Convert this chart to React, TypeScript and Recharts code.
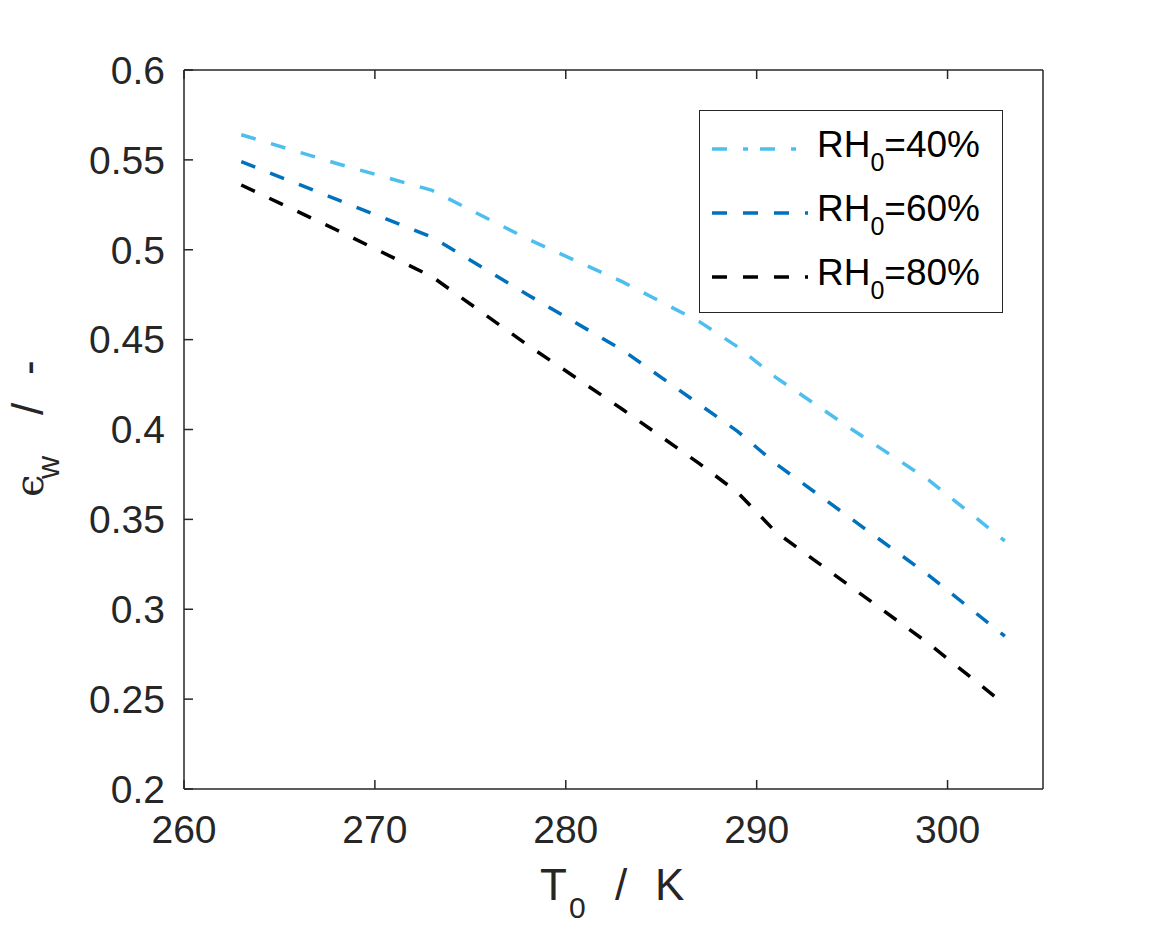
import React from "react";
import { LineChart, Line, XAxis, YAxis, Legend } from "recharts";

// temperatures T0 (K)
const temps = [263, 268, 273, 278, 283, 287, 289, 291, 295, 299, 303];

// water efficiency for each inlet humidity
const rh40 = [0.564, 0.548, 0.533, 0.506, 0.482, 0.46, 0.446, 0.429, 0.4, 0.372, 0.338];
const rh60 = [0.549, 0.528, 0.507, 0.475, 0.444, 0.414, 0.399, 0.381, 0.35, 0.319, 0.285];
const rh80 = [0.536, 0.511, 0.485, 0.447, 0.411, 0.381, 0.365, 0.343, 0.312, 0.281, 0.247];

const xTicks = [260, 270, 280, 290, 300];
const yTicks = [0.2, 0.25, 0.3, 0.35, 0.4, 0.45, 0.5, 0.55, 0.6];

const series = [
  { key: "rh40", label: "40%", color: "#4DBEEE", icon: "15 16 5 12" },
  { key: "rh60", label: "60%", color: "#0072BD", icon: "15 16" },
  { key: "rh80", label: "80%", color: "#000000", icon: "15 16" },
];

const data = temps.map((t, i) => ({ t, rh40: rh40[i], rh60: rh60[i], rh80: rh80[i] }));

const FONT = "'Liberation Sans', Arial, Helvetica, sans-serif";
const AXIS = "#262626";

const tickStyle = { fontSize: 39, fill: AXIS, fontFamily: FONT };

const XLabel = () => (
  <text fill={AXIS} fontFamily={FONT} fontSize={44} y={900}>
    <tspan x={540}>T</tspan>
    <tspan x={569} dy={18} fontSize={30}>0</tspan>
    <tspan x={615} dy={-18}>/</tspan>
    <tspan x={655}>K</tspan>
  </text>
);

const YLabel = () => (
  <text fill={AXIS} fontFamily={FONT} fontSize={44} transform="translate(43,497) rotate(-90)">
    <tspan x={0} fontSize={40} fontFamily="'DejaVu Serif', serif">ϵ</tspan>
    <tspan x={18} dy={16} fontSize={32}>w</tspan>
    <tspan x={82} dy={-16}>/</tspan>
    <tspan x={122}>-</tspan>
  </text>
);

const renderLegend = () => (
  <div
    style={{
      position: "relative",
      width: 304,
      height: 203,
      boxSizing: "border-box",
      border: `1.5px solid ${AXIS}`,
      background: "#fff",
      fontFamily: FONT,
    }}
  >
    {series.map((s, i) => (
      <div key={s.key} style={{ position: "absolute", left: 0, top: 38 + i * 64 - 20, height: 40, width: 304 }}>
        <svg width={96} height={40} style={{ position: "absolute", left: 12, top: 0 }}>
          <line x1={0} y1={20} x2={96} y2={20} stroke={s.color} strokeWidth={3.5} strokeDasharray={s.icon} />
        </svg>
        <span
          style={{
            position: "absolute",
            left: 117,
            top: -6,
            fontSize: 37,
            lineHeight: "44px",
            color: "#000",
            whiteSpace: "nowrap",
          }}
        >
          RH<sub style={{ fontSize: 25, verticalAlign: "-14px", lineHeight: 0 }}>0</sub>={s.label}
        </span>
      </div>
    ))}
  </div>
);

export default function App() {
  return (
    <div style={{ position: "absolute", left: 0, top: 0, background: "#fff" }}>
      <LineChart width={1152} height={930} data={data} margin={{ top: 69, right: 108, left: 0, bottom: 0 }}>
        <XAxis
          dataKey="t"
          type="number"
          domain={[260, 305]}
          ticks={xTicks}
          height={141}
          stroke={AXIS}
          strokeWidth={1.5}
          tickSize={-9}
          tickMargin={35}
          tick={tickStyle}
          label={<XLabel />}
        />
        <XAxis
          xAxisId="top"
          orientation="top"
          dataKey="t"
          type="number"
          domain={[260, 305]}
          ticks={xTicks}
          height={1}
          stroke={AXIS}
          strokeWidth={1.5}
          tickSize={-9}
          tickFormatter={() => ""}
        />
        <YAxis
          type="number"
          domain={[0.2, 0.6]}
          ticks={yTicks}
          width={184}
          stroke={AXIS}
          strokeWidth={1.5}
          tickSize={-9}
          tickMargin={28}
          tick={tickStyle}
          tickFormatter={(v: number) => String(+v.toFixed(2))}
          label={<YLabel />}
        />
        <YAxis
          yAxisId="right"
          orientation="right"
          type="number"
          domain={[0.2, 0.6]}
          ticks={yTicks}
          width={1}
          stroke={AXIS}
          strokeWidth={1.5}
          tickSize={-9}
          tickFormatter={() => ""}
        />
        {series.map((s) => (
          <Line
            key={s.key}
            type="linear"
            dataKey={s.key}
            stroke={s.color}
            strokeWidth={3.5}
            strokeDasharray="15 16"
            dot={false}
            isAnimationActive={false}
          />
        ))}
        <Legend
          content={renderLegend}
          layout="vertical"
          align="center"
          verticalAlign="middle"
          wrapperStyle={{ position: "absolute", left: 699, top: 110, width: 304, height: 203 }}
        />
      </LineChart>
    </div>
  );
}
